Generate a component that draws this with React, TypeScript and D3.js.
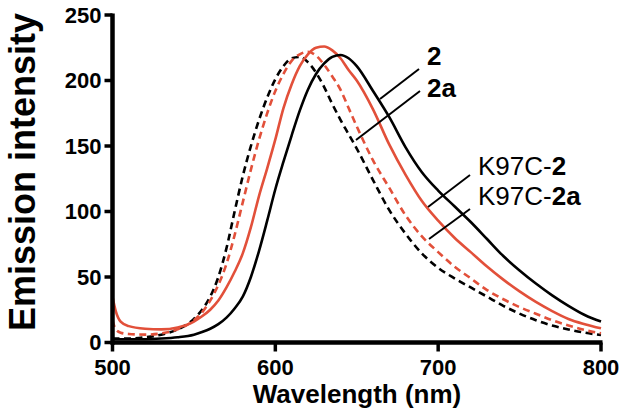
import React from "react";
import * as d3 from "d3";

const wavelengths = [500, 502, 505, 510, 520, 530, 540, 550, 555, 560, 565, 570, 575, 580, 585, 590, 595, 600, 605, 610, 615, 620, 625, 630, 635, 640, 645, 650, 660, 670, 680, 690, 700, 710, 720, 730, 740, 750, 760, 770, 780, 790, 800];

const series2 = [2.5, 2.5, 2.5, 2.5, 2.5, 3, 4, 6, 8, 10.5, 14, 19, 26, 35, 50, 70, 93, 117, 138, 158, 177, 193, 205, 213, 218, 219.5, 217, 211, 192, 172, 149, 130, 116, 104, 92, 79, 66, 55, 45, 36, 28, 21, 16];
const series2a = [3, 3, 3, 3, 4, 6, 10, 18, 25, 35, 50, 72, 100, 127, 150, 170, 187, 201, 211, 217, 218, 214, 206, 195, 182, 170, 159, 148, 124, 101, 83, 68, 57, 49, 42, 35, 28, 22, 17, 13, 10, 7.5, 5.7];
const seriesK2 = [35, 24, 16, 12.5, 10.5, 10, 11.5, 16, 20, 25, 32, 42, 54, 68, 88, 112, 133, 155, 179, 197, 211, 220, 225, 226, 223, 217, 208, 200, 178, 151, 128, 108, 93, 80, 69, 58, 48, 39, 31, 24, 18, 14, 10.8];
const seriesK2a = [17, 10, 7.5, 6.5, 6, 7, 10, 17, 23, 32, 44, 60, 82, 107, 132, 155, 175, 192, 205, 215, 220, 222, 219, 212, 203, 193, 179, 165, 139, 118, 97, 81, 69, 58, 49, 40, 33, 27, 22, 17, 13, 9.5, 7];

const xTicks = [500, 600, 700, 800];
const yTicks = [0, 50, 100, 150, 200, 250];

const BLACK = "#000000";
const RED = "#e2503a";
const FONT = "'Liberation Sans', Arial, Helvetica, sans-serif";

export default function App() {
  const x = d3.scaleLinear().domain([500, 800]).range([112.5, 601]);
  const y = d3.scaleLinear().domain([0, 250]).range([342.5, 15]);
  const line = d3
    .line<number>()
    .x((_, i) => x(wavelengths[i]))
    .y((d) => y(d))
    .curve(d3.curveMonotoneX);

  const curves = [
    { data: series2a, color: BLACK, dash: "7,4.5" },
    { data: seriesK2a, color: RED, dash: "7,4.5" },
    { data: seriesK2, color: RED, dash: null },
    { data: series2, color: BLACK, dash: null },
  ];

  const y0 = y(0);
  return (
    <svg
      width={629}
      height={417}
      style={{ position: "absolute", left: 0, top: 0, background: "#fff" }}
      fontFamily={FONT}
    >
      <rect x={0} y={0} width={629} height={417} fill="#fff" />
      {curves.map((c, i) => (
        <path
          key={i}
          d={line(c.data) || ""}
          fill="none"
          stroke={c.color}
          strokeWidth={2.6}
          strokeDasharray={c.dash || undefined}
        />
      ))}
      {/* axes */}
      <line x1={x(500)} x2={x(800) + 1.5} y1={y0} y2={y0} stroke={BLACK} strokeWidth={4.5} />
      <line x1={x(500)} x2={x(500)} y1={y(250) - 1.5} y2={y0 + 2.25} stroke={BLACK} strokeWidth={4.5} />
      {yTicks.map((t) => (
        <g key={"y" + t}>
          <line x1={x(500) - 8} x2={x(500)} y1={y(t)} y2={y(t)} stroke={BLACK} strokeWidth={3.5} />
          <text
            x={101.5}
            y={y(t)}
            dy="0.36em"
            textAnchor="end"
            fontSize={22}
            fontWeight="bold"
          >
            {t}
          </text>
        </g>
      ))}
      {xTicks.map((t) => (
        <g key={"x" + t}>
          <line x1={x(t)} x2={x(t)} y1={y0} y2={y0 + 9} stroke={BLACK} strokeWidth={3.5} />
          <text x={x(t)} y={375} textAnchor="middle" fontSize={22} fontWeight="bold">
            {t}
          </text>
        </g>
      ))}
      <text x={357} y={403} textAnchor="middle" fontSize={26} fontWeight="bold">
        Wavelength (nm)
      </text>
      <text
        transform="translate(35,172) rotate(-90)"
        textAnchor="middle"
        fontSize={36}
        fontWeight="bold"
      >
        Emission intensity
      </text>
      {/* labels */}
      <text x={427} y={65} fontSize={26} fontWeight="bold">2</text>
      <text x={427} y={97} fontSize={26} fontWeight="bold">2a</text>
      <text x={478} y={175} fontSize={26}>
        K97C-<tspan fontWeight="bold">2</tspan>
      </text>
      <text x={478} y={205} fontSize={26}>
        K97C-<tspan fontWeight="bold">2a</tspan>
      </text>
      <line x1={419} y1={69} x2={380} y2={99} stroke={BLACK} strokeWidth={2} />
      <line x1={420} y1={91} x2={356} y2={140} stroke={BLACK} strokeWidth={2} />
      <line x1={470} y1={175} x2={428} y2={207} stroke={BLACK} strokeWidth={2} />
      <line x1={470} y1={209} x2={429} y2={239} stroke={BLACK} strokeWidth={2} />
    </svg>
  );
}
